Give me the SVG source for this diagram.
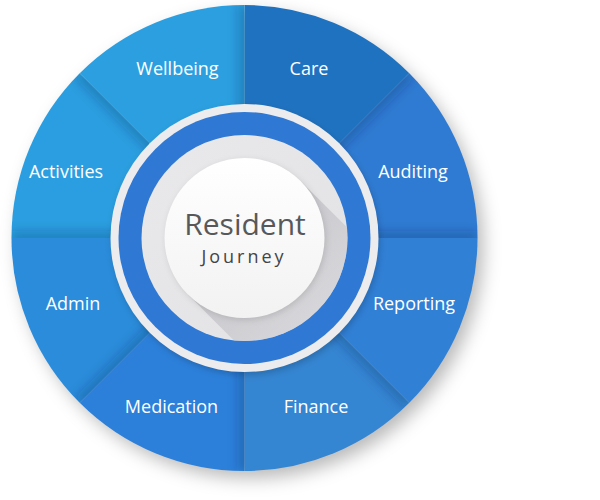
<svg xmlns="http://www.w3.org/2000/svg" width="600" height="500" viewBox="0 0 600 500">
  <defs>
    <style>
      .lbl { font-family: "Open Sans", "Liberation Sans", sans-serif; font-size: 18px; fill: #ffffff; text-anchor: middle; }
      .sh { stroke: #0a2a55; stroke-width: 14; stroke-opacity: 0.22; fill: none; filter: url(#blur5); }
    </style>
    <filter id="blur5" filterUnits="userSpaceOnUse" x="0" y="0" width="600" height="500">
      <feGaussianBlur stdDeviation="5"/>
    </filter>
    <filter id="blur9" filterUnits="userSpaceOnUse" x="0" y="0" width="600" height="500">
      <feGaussianBlur stdDeviation="9"/>
    </filter>
    <filter id="blur3" filterUnits="userSpaceOnUse" x="0" y="0" width="600" height="500">
      <feGaussianBlur stdDeviation="3"/>
    </filter>
    <linearGradient id="longShadow" x1="0" y1="0" x2="1" y2="1">
      <stop offset="0" stop-color="#b3b3b8" stop-opacity="0.95"/>
      <stop offset="0.6" stop-color="#d4d4d8" stop-opacity="0.5"/>
      <stop offset="1" stop-color="#e6e6e8" stop-opacity="0"/>
    </linearGradient>
    <linearGradient id="whiteDisk" x1="0" y1="0" x2="0" y2="1">
      <stop offset="0" stop-color="#ffffff"/>
      <stop offset="1" stop-color="#f2f2f3"/>
    </linearGradient>
    <linearGradient id="grayDisk" x1="0" y1="0" x2="1" y2="1">
      <stop offset="0" stop-color="#e9e9eb"/>
      <stop offset="1" stop-color="#e2e2e5"/>
    </linearGradient>
    <clipPath id="cWell"><path d="M244.5 238 L79.74 73.24 A233 233 0 0 1 244.5 5 Z"/></clipPath>
    <clipPath id="cAct"><path d="M244.5 238 L11.5 238 A233 233 0 0 1 79.74 73.24 Z"/></clipPath>
    <clipPath id="cAud"><path d="M244.5 238 L409.26 73.24 A233 233 0 0 1 477.5 238 Z"/></clipPath>
    <clipPath id="cFin"><path d="M244.5 238 L409.26 402.76 A233 233 0 0 1 244.5 471 Z"/></clipPath>
    <clipPath id="cMed"><path d="M244.5 238 L244.5 471 A233 233 0 0 1 79.74 402.76 Z"/></clipPath>
    <clipPath id="cAdm"><path d="M244.5 238 L79.74 402.76 A233 233 0 0 1 11.5 238 Z"/></clipPath>
    <clipPath id="cInner"><circle cx="244.5" cy="238" r="103"/></clipPath>
  </defs>

  <rect width="600" height="500" fill="#ffffff"/>

  <!-- outer drop shadow -->
  <circle cx="251" cy="246" r="232" fill="#000000" fill-opacity="0.28" filter="url(#blur9)"/>

  <g id="care">
    <path d="M244.5 238 L244.5 5 A233 233 0 0 1 409.26 73.24 Z" fill="#1f72c0"/>
    <text class="lbl" x="309" y="75">Care</text>
  </g>
  <g id="auditing">
    <path d="M244.5 238 L409.26 73.24 A233 233 0 0 1 477.5 238 Z" fill="#2f7bd3"/>
    <g clip-path="url(#cAud)">
      <line class="sh" x1="244.5" y1="238" x2="409.26" y2="73.24"/>
      <line class="sh" x1="244.5" y1="238" x2="477.5" y2="238" stroke-width="8"/>
    </g>
    <text class="lbl" x="413" y="178">Auditing</text>
  </g>
  <g id="reporting">
    <path d="M244.5 238 L477.5 238 A233 233 0 0 1 409.26 402.76 Z" fill="#3080d6"/>
    <text class="lbl" x="414" y="310">Reporting</text>
  </g>
  <g id="finance">
    <path d="M244.5 238 L409.26 402.76 A233 233 0 0 1 244.5 471 Z" fill="#3485d2"/>
    <g clip-path="url(#cFin)">
      <line class="sh" x1="244.5" y1="238" x2="409.26" y2="402.76"/>
    </g>
    <text class="lbl" x="316" y="413">Finance</text>
  </g>
  <g id="medication">
    <path d="M244.5 238 L244.5 471 A233 233 0 0 1 79.74 402.76 Z" fill="#2c80da"/>
    <g clip-path="url(#cMed)">
      <line class="sh" x1="244.5" y1="238" x2="244.5" y2="471"/>
    </g>
    <text class="lbl" x="171.5" y="413">Medication</text>
  </g>
  <g id="admin">
    <path d="M244.5 238 L79.74 402.76 A233 233 0 0 1 11.5 238 Z" fill="#2a8cdb"/>
    <g clip-path="url(#cAdm)">
      <line class="sh" x1="244.5" y1="238" x2="79.74" y2="402.76"/>
    </g>
    <text class="lbl" x="73" y="310">Admin</text>
  </g>
  <g id="activities">
    <path d="M244.5 238 L11.5 238 A233 233 0 0 1 79.74 73.24 Z" fill="#2a9ee0"/>
    <g clip-path="url(#cAct)">
      <line class="sh" x1="244.5" y1="238" x2="79.74" y2="73.24"/>
      <line class="sh" x1="244.5" y1="238" x2="11.5" y2="238" stroke-width="8"/>
    </g>
    <text class="lbl" x="66" y="178">Activities</text>
  </g>
  <g id="wellbeing">
    <path d="M244.5 238 L79.74 73.24 A233 233 0 0 1 244.5 5 Z" fill="#2b9fe0"/>
    <g clip-path="url(#cWell)">
      <line class="sh" x1="244.5" y1="238" x2="244.5" y2="5"/>
    </g>
    <text class="lbl" x="177.5" y="75">Wellbeing</text>
  </g>

  <g id="resident-journey">
    <circle cx="246" cy="241" r="134" fill="#000000" fill-opacity="0.18" filter="url(#blur3)"/>
    <circle cx="244.5" cy="238" r="134" fill="#ececee"/>
    <circle cx="244.5" cy="238" r="126" fill="#2f78d4"/>
    <circle cx="244.5" cy="238" r="103" fill="url(#grayDisk)"/>
    <g clip-path="url(#cInner)">
      <polygon points="301.07,181.43 187.93,294.57 347.93,454.57 461.07,341.43" fill="url(#longShadow)"/>
    </g>
    <circle cx="246" cy="240" r="80" fill="#000000" fill-opacity="0.12" filter="url(#blur3)"/>
    <circle cx="244.5" cy="238" r="80" fill="url(#whiteDisk)"/>
    <text x="245" y="235" font-family="'Open Sans', 'Liberation Sans', sans-serif" font-size="30" fill="#58585a" text-anchor="middle">Resident</text>
    <text x="244" y="263" font-family="'Open Sans', 'Liberation Sans', sans-serif" font-size="18" letter-spacing="3" fill="#444446" text-anchor="middle">Journey</text>
  </g>
</svg>
